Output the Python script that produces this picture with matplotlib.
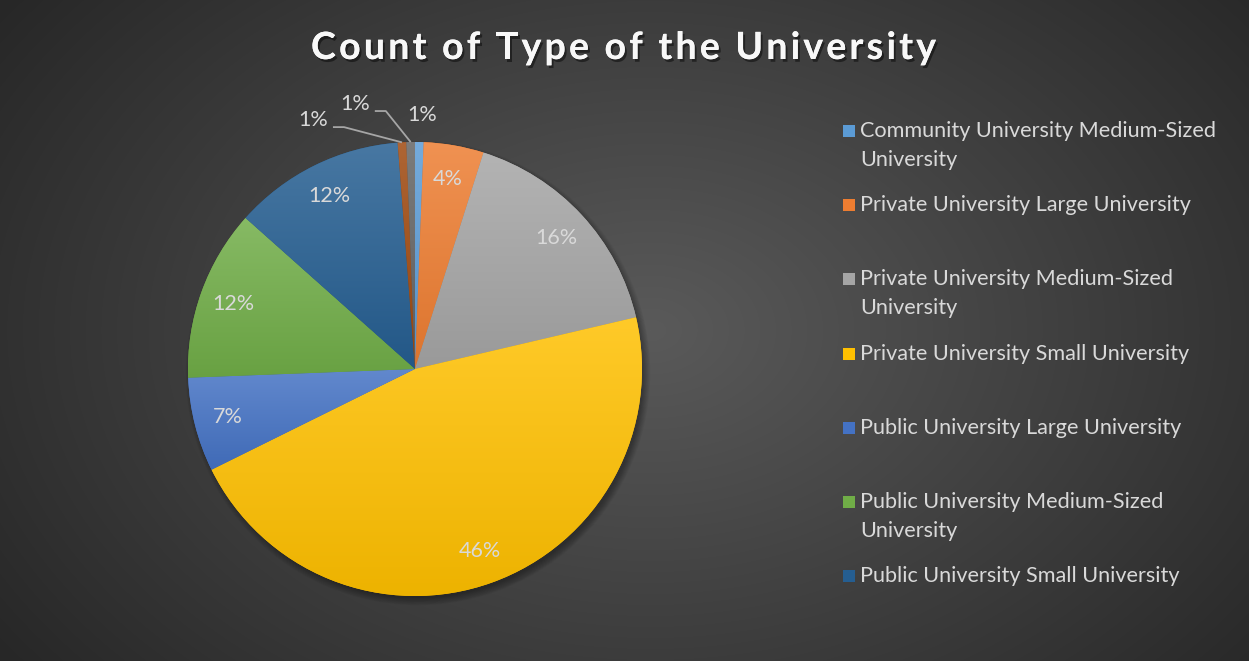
import numpy as np
import matplotlib
matplotlib.use("Agg")
import matplotlib.pyplot as plt
from matplotlib.patches import Rectangle, Circle
from matplotlib.colors import to_rgb
from matplotlib.font_manager import FontProperties
import matplotlib.patheffects as pe

# ---- data -------------------------------------------------------------
title = "Count of Type of the University"
legend_labels = [
    "Community University Medium-Sized University",
    "Private University Large University",
    "Private University Medium-Sized University",
    "Private University Small University",
    "Public University Large University",
    "Public University Medium-Sized University",
    "Public University Small University",
]
legend_lines = [
    ["Community University Medium-Sized", "University"],
    ["Private University Large University"],
    ["Private University Medium-Sized", "University"],
    ["Private University Small University"],
    ["Public University Large University"],
    ["Public University Medium-Sized", "University"],
    ["Public University Small University"],
]
counts = [1, 7, 27, 76, 11, 20, 20, 1, 1]
colors = ["#5B9BD5", "#ED7D31", "#A5A5A5", "#FFC000", "#4472C4",
          "#70AD47", "#255E91", "#9E480E", "#636363"]

# ---- figure in pixel units ---------------------------------------------
W, H = 1249, 661
fig = plt.figure(figsize=(W / 100, H / 100), dpi=100)
ax = fig.add_axes([0, 0, 1, 1])
ax.set_axis_off()

# radial background
yy, xx = np.mgrid[0:H, 0:W]
d = np.sqrt(((xx - 650) / 800.0) ** 2 + ((yy - 330) / 560.0) ** 2)
d = np.clip(d, 0, 1)
c_in = np.array(to_rgb("#5a5a5a"))
c_out = np.array(to_rgb("#272727"))
bg = c_in[None, None, :] * (1 - d[..., None]) + c_out[None, None, :] * d[..., None]
ax.imshow(bg, extent=[0, W, 0, H], origin="upper", zorder=0)

cx, cy, R = 415, H - 369, 227

# soft drop shadow under the pie, offset down-right
for k in range(10):
    ax.add_patch(Circle((cx + 3, cy - 4), R - 2 + k * 0.8, facecolor="black",
                        edgecolor="none", alpha=0.035, zorder=1))

wedges, _ = ax.pie(counts, colors=colors, startangle=90, counterclock=False,
                   center=(cx, cy), radius=R,
                   wedgeprops=dict(linewidth=0), frame=False)
for w in wedges:
    w.set_zorder(2)


def shade(c, f):
    c = np.array(to_rgb(c))
    if f >= 0:
        return c + (1 - c) * f
    return c * (1 + f)


# vertical gradient fill clipped to each wedge (per-wedge extent)
ny = 256
t = np.linspace(0, 1, ny)[:, None]  # 0 bottom -> 1 top
for w, col in zip(wedges, colors):
    bb = w.get_path().get_extents()
    top = shade(col, 0.16)
    bot = shade(col, -0.07)
    grad = bot[None, None, :] * (1 - t[..., None]) + top[None, None, :] * t[..., None]
    grad = np.repeat(grad, 2, axis=1)
    im = ax.imshow(grad, extent=[bb.x0 - 1, bb.x1 + 1, bb.y0 - 1, bb.y1 + 1],
                   origin="lower", zorder=3, interpolation="bilinear")
    im.set_clip_path(w)

# percentage labels
total = sum(counts)
label_color = "#D9D9D9"
lab_font = dict(fontsize=15.5, color=label_color, family="Lato", zorder=6,
                ha="center", va="center")
for i, (w, c) in enumerate(zip(wedges, counts)):
    pct = f"{round(100 * c / total):d}%"
    mid = np.deg2rad((w.theta1 + w.theta2) / 2)
    if i == 0:
        r = 1.12 * R
        ax.text(cx + r * np.cos(mid) + 2, cy + r * np.sin(mid), pct, **lab_font)
    elif i >= 7:
        off = {7: 19.0, 8: 11.7}[i]
        rr = {7: 1.185, 8: 1.197}[i] * R
        a = mid + np.deg2rad(off)
        tx, ty = cx + rr * np.cos(a), cy + rr * np.sin(a)
        ax.text(tx, ty, pct, **lab_font)
        ax_, ay_ = cx + R * np.cos(mid), cy + R * np.sin(mid)
        ax.plot([tx + 20, tx + 31, ax_], [ty - 7, ty - 7, ay_],
                color="#A6A6A6", lw=1.3, zorder=5, solid_capstyle="butt")
    else:
        r = 0.85 * R
        ax.text(cx + r * np.cos(mid), cy + r * np.sin(mid), pct, **lab_font)

# title with letter spacing
fig.canvas.draw()
renderer = fig.canvas.get_renderer()
fp = FontProperties(family="Lato", weight="bold", size=27)


def text_w(s):
    w, h, dsc = renderer.get_text_width_height_descent(s, fp, ismath=False)
    return w


natural = text_w(title)
x0, x1 = 311, 936
spacing = (x1 - x0 - natural) / (len(title) - 1)
ref = text_w("x")
for i, ch in enumerate(title):
    if ch == " ":
        continue
    xi = x0 + (text_w(title[:i] + "x") - ref if i > 0 else 0) + i * spacing
    ax.text(xi, H - 48, ch, fontproperties=fp, color="#F8F8F8", ha="left",
            va="center", zorder=7,
            path_effects=[pe.withSimplePatchShadow(offset=(1.5, -2.0),
                                                   shadow_rgbFace="black",
                                                   alpha=0.45),
                          pe.Normal()])

# legend
leg_x, leg_y0, leg_step, line_gap = 843, 131, 74.17, 29
for k, lines in enumerate(legend_lines):
    y = H - (leg_y0 + k * leg_step)
    ax.add_patch(Rectangle((leg_x, y - 6), 12, 12, facecolor=colors[k],
                           edgecolor="none", zorder=6))
    for j, ln in enumerate(lines):
        ax.text(leg_x + 17, y - j * line_gap, ln, fontsize=15.6, family="Lato",
                color=label_color, ha="left", va="center", zorder=6)

ax.set_xlim(0, W)
ax.set_ylim(0, H)
ax.set_aspect("auto")
fig.savefig("out.png", dpi=100)
